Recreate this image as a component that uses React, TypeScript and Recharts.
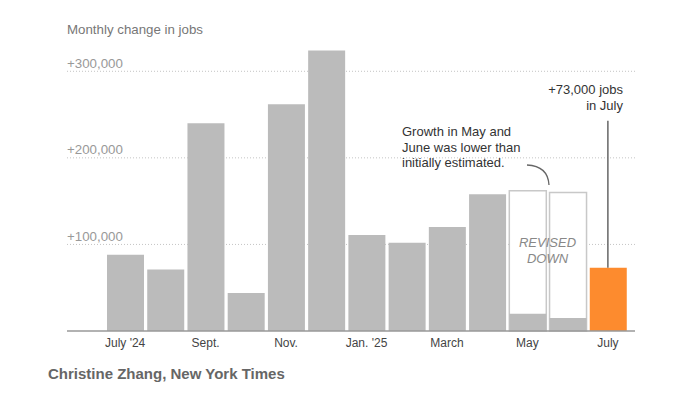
import React from "react";
import { BarChart, Bar, XAxis, YAxis, CartesianGrid, Cell, ReferenceLine } from "recharts";

const months = ["July '24", "Aug.", "Sept.", "Oct.", "Nov.", "Dec.", "Jan. '25", "Feb.", "March", "April", "May", "June", "July"];
const jobs = [88000, 71000, 240000, 44000, 262000, 324000, 111000, 102000, 120000, 158000, 20000, 15000, 73000];
const initialEstimates = [null, null, null, null, null, null, null, null, null, null, 162000, 160000, null];
const yTicks = [100000, 200000, 300000];
const highlightMonth = "July";
const annotationTop = 243000;

const data = months.map((m, i) => ({ month: m, jobs: jobs[i], initial: initialEstimates[i] }));

const FONT = "'Liberation Sans', Arial, sans-serif";

const renderYTick = (props: any) => {
  const { y, payload } = props;
  return (
    <text key={payload.value} x={67} y={y - 3.5} fill="#999" fontSize={13.3} fontFamily={FONT} textAnchor="start">
      {"+" + Number(payload.value).toLocaleString("en-US")}
    </text>
  );
};

const pad = { left: 38, right: 7 };

export default function App() {
  return (
    <div style={{ position: "absolute", left: 0, top: 0, width: 700, height: 393, background: "#fff", fontFamily: FONT }}>
      <BarChart
        width={700}
        height={393}
        data={data}
        margin={{ top: 28, right: 65, left: 66, bottom: 32 }}
        barSize={37}
      >
        <CartesianGrid
          xAxisId="main"
          vertical={false}
          horizontalValues={yTicks}
          strokeDasharray="1 2"
          stroke="#c4c4c4"
        />
        <XAxis
          xAxisId="main"
          dataKey="month"
          interval={1}
          padding={pad}
          tickLine={false}
          tickSize={0}
          tickMargin={7}
          height={30}
          axisLine={{ stroke: "#999", strokeWidth: 1.5 }}
          tick={{ fontSize: 12, fill: "#444", fontFamily: FONT }}
        />
        <XAxis xAxisId="outline" dataKey="month" hide padding={pad} />
        <YAxis
          type="number"
          domain={[0, 350000]}
          ticks={yTicks}
          interval={0}
          width={1}
          axisLine={false}
          tickLine={false}
          tick={renderYTick}
        />
        <Bar dataKey="initial" xAxisId="outline" fill="#fff" stroke="#c8c8c8" strokeWidth={1.5} isAnimationActive={false} />
        <Bar dataKey="jobs" xAxisId="main" isAnimationActive={false}>
          {data.map((d, i) => (
            <Cell key={i} fill={d.month === highlightMonth ? "#fd8b2e" : "#bbbbbb"} />
          ))}
        </Bar>
        <ReferenceLine
          xAxisId="main"
          segment={[{ x: highlightMonth, y: jobs[jobs.length - 1] }, { x: highlightMonth, y: annotationTop }]}
          stroke="#666"
          strokeWidth={1.5}
        />
      </BarChart>

      <div style={{ position: "absolute", left: 67, top: 21, fontSize: 13.3, color: "#777", lineHeight: "18px" }}>
        Monthly change in jobs
      </div>

      <div style={{ position: "absolute", right: 700 - 623, top: 82, fontSize: 13, color: "#333", lineHeight: "16px", textAlign: "right" }}>
        +73,000 jobs
        <br />
        in July
      </div>

      <div style={{ position: "absolute", left: 402, top: 124, fontSize: 13, color: "#333", lineHeight: "15.5px" }}>
        Growth in May and
        <br />
        June was lower than
        <br />
        initially estimated.
      </div>

      <svg width={700} height={393} style={{ position: "absolute", left: 0, top: 0, pointerEvents: "none" }}>
        <path d="M527,165 Q548,166 549,185" fill="none" stroke="#666" strokeWidth={1.3} />
      </svg>

      <div style={{ position: "absolute", left: 497, width: 101, top: 235, fontSize: 13, color: "#888", lineHeight: "16px", textAlign: "center", fontStyle: "italic" }}>
        REVISED
        <br />
        DOWN
      </div>

      <div style={{ position: "absolute", left: 48, top: 365, fontSize: 15, fontWeight: "bold", color: "#666", lineHeight: "18px" }}>
        Christine Zhang, New York Times
      </div>
    </div>
  );
}
